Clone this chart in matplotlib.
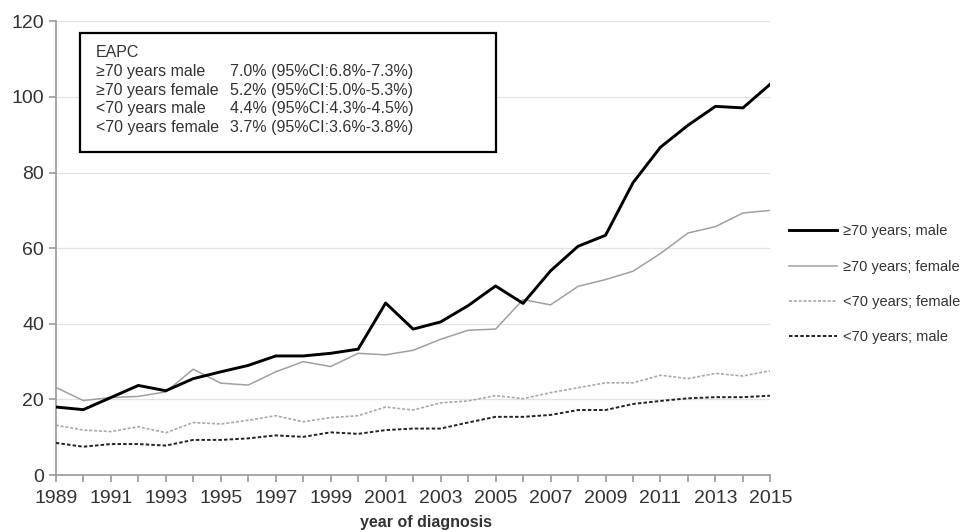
import numpy as np
import matplotlib.pyplot as plt
from matplotlib.patches import Rectangle

plt.rcParams['font.family'] = ['Liberation Sans', 'DejaVu Sans']

years = list(range(1989, 2016))

old_male = [18.0, 17.3, 20.5, 23.7, 22.3, 25.5, 27.3, 29.0, 31.5, 31.5, 32.2, 33.3, 45.5,
            38.6, 40.5, 44.8, 50.0, 45.4, 54.0, 60.5, 63.4, 77.3, 86.7, 92.5, 97.5, 97.1, 103.4]
old_female = [23.2, 19.7, 20.5, 20.8, 22.0, 28.0, 24.3, 23.8, 27.3, 30.0, 28.7, 32.2, 31.8,
              33.0, 35.9, 38.3, 38.6, 46.4, 45.0, 49.9, 51.7, 53.9, 58.6, 64.0, 65.7, 69.3, 70.0]
young_female = [13.2, 11.9, 11.5, 12.8, 11.2, 13.9, 13.5, 14.5, 15.7, 14.1, 15.2, 15.7, 18.0,
                17.2, 19.1, 19.6, 21.0, 20.2, 21.8, 23.1, 24.4, 24.4, 26.4, 25.5, 26.9, 26.2, 27.6]
young_male = [8.5, 7.5, 8.2, 8.2, 7.8, 9.3, 9.3, 9.7, 10.5, 10.1, 11.3, 10.9, 11.9,
              12.3, 12.3, 13.9, 15.4, 15.4, 15.9, 17.2, 17.2, 18.8, 19.6, 20.3, 20.6, 20.6, 21.0]

eapc_groups = ['\u226570 years male', '\u226570 years female', '<70 years male', '<70 years female']
eapc_values = ['7.0% (95%CI:6.8%-7.3%)', '5.2% (95%CI:5.0%-5.3%)',
               '4.4% (95%CI:4.3%-4.5%)', '3.7% (95%CI:3.6%-3.8%)']

fig = plt.figure(figsize=(9.63, 5.32), dpi=100)
ax = fig.add_axes([0.058, 0.107, 0.742, 0.853])

ax.plot(years, old_male, color='black', lw=2.1, label='\u226570 years; male', zorder=5)
ax.plot(years, old_female, color='#a0a0a0', lw=1.1, label='\u226570 years; female', zorder=4)
ax.plot(years, young_female, color='#a8a8a8', lw=1.2, ls=(0, (1.8, 1.1)), label='<70 years; female', zorder=3)
ax.plot(years, young_male, color='#222222', lw=1.4, ls=(0, (1.8, 1.1)), label='<70 years; male', zorder=3)

ax.set_xlim(1989, 2015)
ax.set_ylim(0, 120)
ax.set_yticks(range(0, 121, 20))
ax.set_xticks(years, minor=True)
ax.set_xticks(range(1989, 2016, 2))
ax.yaxis.grid(True, color='#e2e2e2', lw=0.9)
ax.set_axisbelow(True)
for s in ['top', 'right']:
    ax.spines[s].set_visible(False)
for s in ['left', 'bottom']:
    ax.spines[s].set_color('#9a9a9a')
    ax.spines[s].set_linewidth(1.2)
ax.tick_params(axis='both', which='both', color='#9a9a9a', width=1.2, length=5,
               labelsize=14, labelcolor='#333333')
ax.tick_params(axis='x', which='major', pad=6)
ax.set_xlabel('year of diagnosis', fontsize=11.5, fontweight='bold', color='#333333')
ax.xaxis.set_label_coords(0.518, -0.089)

# EAPC annotation box
ax.add_patch(Rectangle((0.034, 0.711), 0.582, 0.263, transform=ax.transAxes,
                       fill=True, facecolor='white', edgecolor='black', lw=1.6, zorder=6))
ax.text(0.056, 0.932, 'EAPC', transform=ax.transAxes, fontsize=11.5,
        color='#333333', va='center', zorder=7)
row_y = [0.890, 0.848, 0.807, 0.767]
for y, g, v in zip(row_y, eapc_groups, eapc_values):
    ax.text(0.056, y, g, transform=ax.transAxes, fontsize=11.5, color='#333333', va='center', zorder=7)
    ax.text(0.2437, y, v, transform=ax.transAxes, fontsize=11.5, color='#333333', va='center', zorder=7)

fig.legend(loc='upper left', bbox_to_anchor=(0.806, 0.603), frameon=False, fontsize=10.5,
           labelspacing=1.46, handlelength=3.3, handletextpad=0.35, labelcolor='#333333')

fig.savefig('out.png', dpi=100)
